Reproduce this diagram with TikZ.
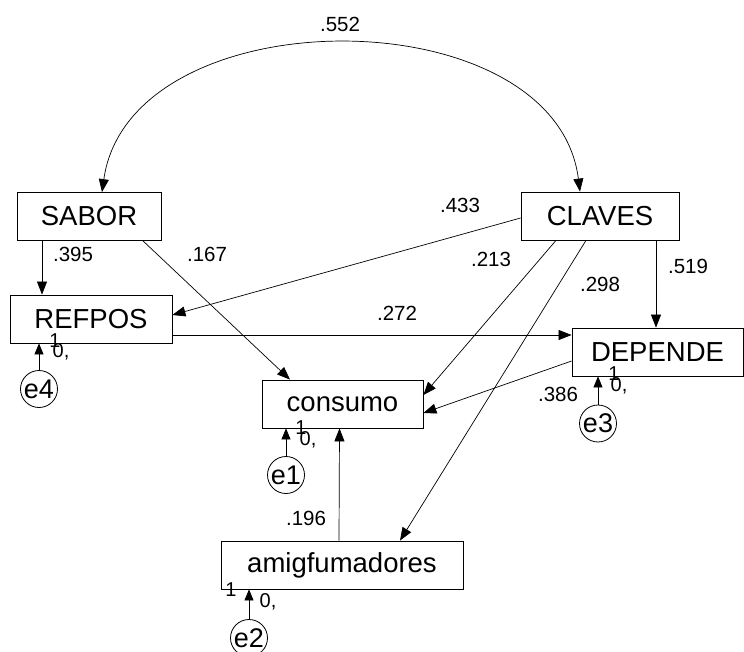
\documentclass[tikz,border=0pt]{standalone}
\usepackage{fontspec}
\setmainfont{Liberation Sans}
\usepackage{tikz}
\usetikzlibrary{shapes.geometric, arrows.meta, positioning, calc}

\begin{document}
\begin{tikzpicture}[
    x=1pt, y=-1pt,
    var/.style={rectangle, draw, line width=0.8pt, minimum height=48pt, minimum width=#1, inner sep=0pt, font=\fontsize{27.5}{30}\selectfont},
    var/.default=150pt,
    err/.style={circle, draw, line width=0.8pt, minimum size=37pt, inner sep=0pt, font=\fontsize{27}{30}\selectfont},
    path/.style={-{Triangle[length=13pt, width=10pt]}, line width=0.7pt},
    errpath/.style={-{Triangle[length=11pt, width=9pt]}, line width=0.7pt},
    coef/.style={font=\fontsize{20.5}{24}\selectfont, inner sep=0pt},
    ind/.style={font=\fontsize{20}{24}\selectfont, inner sep=0pt}
]
\useasboundingbox (0,0) rectangle (744,652);

% Observed variables
\node[var=144pt] (sabor) at (89,216.5) {SABOR};
\node[var=158pt] (claves) at (600,216) {CLAVES};
\node[var=162pt] (refpos) at (91,319) {REFPOS};
\node[var=171pt] (depende) at (657.5,352) {DEPENDE};
\node[var=161pt] (consumo) at (342.5,404) {consumo};
\node[var=242pt] (amig) at (342,565) {amigfumadores};

% Error terms
\node[err] (e4) at (39,389) {e4};
\node[err] (e3) at (598,423.5) {e3};
\node[err] (e1) at (286,475) {e1};
\node[err] (e2) at (249,638) {e2};

% Covariance
\draw[{Triangle[length=13pt, width=10pt]}-{Triangle[length=13pt, width=10pt]}, line width=0.7pt]
    ([xshift=13pt]sabor.north) .. controls (130,-5) and (555,-5) .. ([xshift=-20pt]claves.north);

% Paths
\draw[path] ([xshift=-47pt]sabor.south) -- ([xshift=-47pt]sabor.south |- refpos.north);
\draw[path] ([xshift=54pt]sabor.south) -- ([xshift=-52.5pt]consumo.north);
\draw[path] ([yshift=-2pt]claves.west) -- ([yshift=4pt]refpos.east);
\draw[path] ([xshift=-44pt]claves.south) -- ([yshift=9pt]consumo.east);
\draw[path] ([xshift=-14pt]claves.south) -- ([xshift=58pt]amig.north);
\draw[path] ([xshift=56pt]claves.south) -- ([xshift=56pt]claves.south |- depende.north);
\draw[path] ([yshift=-16pt]refpos.east) -- ([yshift=-16pt]refpos.east -| depende.west);
\draw[path] ([yshift=-9pt]depende.west) -- ([yshift=-9pt]consumo.east);
\draw[path] ([xshift=-3pt]amig.north) -- ([xshift=-3pt]consumo.south);

% Error arrows
\draw[errpath] (e4) -- (e4 |- refpos.south);
\draw[errpath] (e3) -- (e3 |- depende.south);
\draw[errpath] (e1) -- (e1 |- consumo.south);
\draw[errpath] (e2) -- (e2 |- amig.south);

% Coefficients
\node[coef] (c552) at (340,24) {.552};
\node[coef] (c395) at (73,254) {.395};
\node[coef] (c167) at (207,254) {.167};
\node[coef] (c433) at (460,205) {.433};
\node[coef] (c213) at (491,259) {.213};
\node[coef] (c298) at (600,284) {.298};
\node[coef] (c519) at (688,266) {.519};
\node[coef] (c272) at (397,313) {.272};
\node[coef] (c386) at (558,394) {.386};
\node[coef] (c196) at (306,518) {.196};

% Indicator labels
\node[ind] (one4) at (55,341) {1};
\node[ind] (zero4) at (61,352) {0,};
\node[ind] (one3) at (614,374) {1};
\node[ind] (zero3) at (619,386) {0,};
\node[ind] (one1) at (301,428) {1};
\node[ind] (zero1) at (308,440) {0,};
\node[ind] (one2) at (231,590) {1};
\node[ind] (zero2) at (268,602) {0,};
\end{tikzpicture}
\end{document}
